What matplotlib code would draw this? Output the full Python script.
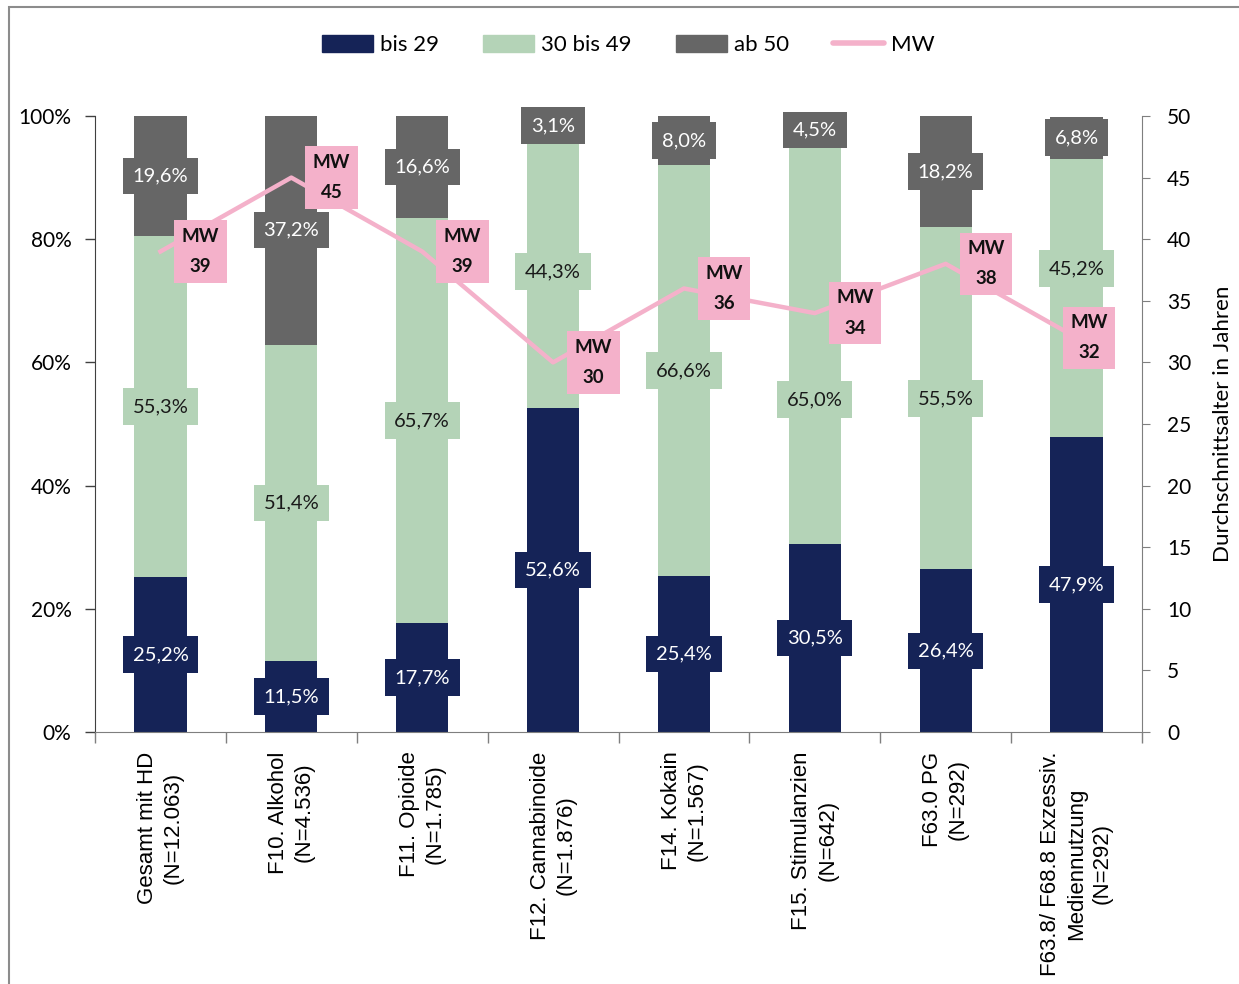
import matplotlib.pyplot as plt
from matplotlib.patches import Rectangle, Patch
from matplotlib.lines import Line2D
import numpy as np

plt.rcParams['font.family'] = ['Lato', 'DejaVu Sans']

# data
categories = ["Gesamt mit HD\n(N=12.063)", "F10. Alkohol\n(N=4.536)", "F11. Opioide\n(N=1.785)",
              "F12. Cannabinoide\n(N=1.876)", "F14. Kokain\n(N=1.567)", "F15. Stimulanzien\n(N=642)",
              "F63.0 PG\n(N=292)", "F63.8/ F68.8 Exzessiv.\nMediennutzung\n(N=292)"]
bis29 = [25.2, 11.5, 17.7, 52.6, 25.4, 30.5, 26.4, 47.9]
bis49 = [55.3, 51.4, 65.7, 44.3, 66.6, 65.0, 55.5, 45.2]
ab50 = [19.6, 37.2, 16.6, 3.1, 8.0, 4.5, 18.2, 6.8]
mw = [39, 45, 39, 30, 36, 34, 38, 32]
series_names = ["bis 29", "30 bis 49", "ab 50"]

navy = '#152357'
green = '#b4d3b7'
gray = '#666666'
pink = '#f4b1ca'

fig = plt.figure(figsize=(12.39, 9.84), dpi=100)
ax = fig.add_axes([95/1239, 1-732/984, (1142-95)/1239, (732-116)/984])
ax2 = ax.twinx()

# some labels were moved by hand in the original to dodge the MW boxes (points)
nudge = {(1, 5): -40, (1, 7): 21}

x = np.arange(len(categories))
bottom = np.zeros(len(categories))
for si, (vals, col, tcol) in enumerate([(bis29, navy, 'white'), (bis49, green, '#1a1a1a'),
                                         (ab50, gray, 'white')]):
    v = np.array(vals) / 100
    ax.bar(x, v, 0.4, bottom=bottom, color=col, zorder=2)
    for xi, b, h, raw in zip(x, bottom, v, vals):
        ax.annotate(f"{raw:.1f}".replace('.', ',') + '%', (xi, b + h / 2),
                    xytext=(0, nudge.get((si, xi), 0)), textcoords='offset points',
                    ha='center', va='center', fontsize=14.5, color=tcol, zorder=3,
                    bbox=dict(boxstyle='square,pad=0.48', fc=col, ec='none'))
    bottom = bottom + v

ax.set_xlim(-0.5, 7.5)
ax.set_ylim(0, 1)
ax.set_yticks(np.arange(0, 1.01, 0.2))
ax.set_yticklabels([f"{int(round(t*100))}%" for t in np.arange(0, 1.01, 0.2)])
ax.tick_params(axis='y', labelsize=15, length=7, width=1, color='#404040', pad=10)
ax.set_xticks(x)
ax.set_xticklabels(categories, rotation=90, family='Liberation Sans', fontsize=16,
                   ha='center', va='top', multialignment='center', linespacing=1.3)
ax.set_xticks(np.arange(-0.5, 8, 1), minor=True)
ax.tick_params(axis='x', which='major', length=0, pad=14)
ax.tick_params(axis='x', which='minor', length=8, color='#7f7f7f', width=1)

for s in ['top', 'right']:
    ax.spines[s].set_visible(False)
ax.spines['left'].set_color('#404040')
ax.spines['bottom'].set_color('#7f7f7f')

# MW line on secondary axis
ax2.plot(x, mw, color=pink, lw=3.2, zorder=3)
offsets = [29, 29, 29, 29, 29, 29, 29, 9]
for xi, m, off in zip(x, mw, offsets):
    ax2.annotate(f"MW\n{m}", (xi, m), xytext=(off, 0), textcoords='offset points',
                 ha='center', va='center', fontsize=13.5, fontweight='bold', linespacing=1.95,
                 color='#111111', zorder=4,
                 bbox=dict(boxstyle='square,pad=0.4', fc=pink, ec='none'))
ax2.set_ylim(0, 50)
ax2.set_yticks(range(0, 51, 5))
ax2.tick_params(axis='y', labelsize=15, length=6, color='#7f7f7f', pad=12)
for s in ['top', 'left', 'bottom']:
    ax2.spines[s].set_visible(False)
ax2.spines['right'].set_color('#7f7f7f')
ax2.set_ylabel("Durchschnittsalter in Jahren", fontsize=16, labelpad=16)

# legend
handles = [Patch(color=navy), Patch(color=green), Patch(color=gray),
           Line2D([0], [0], color=pink, lw=4, solid_capstyle='round')]
fig.legend(handles, series_names + ["MW"], loc='center', bbox_to_anchor=(0.507, 0.954),
           ncol=4, frameon=False, fontsize=16, handlelength=2.3, handleheight=0.75,
           handletextpad=0.3, columnspacing=2.0)

# outer border
fig.patches.append(Rectangle((9/1239, -0.05), 1.0, 1.05 - 7/984, transform=fig.transFigure,
                             fill=False, ec='#8c8c8c', lw=1.5))

fig.savefig("out.png", dpi=100)
